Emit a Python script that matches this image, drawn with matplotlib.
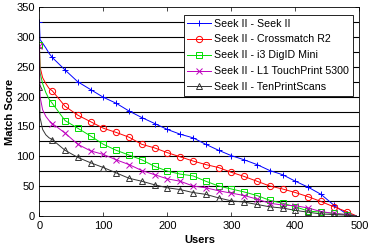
import matplotlib
matplotlib.use('Agg')

import matplotlib.pyplot as plt

plt.rcParams['font.family'] = ['Liberation Sans', 'DejaVu Sans']

# users axis, dense near zero where the curves drop fast
users = [0, 1, 5, 10, 15, 20, 40, 60, 80, 100, 120, 140, 160, 180, 200,
         220, 240, 260, 280, 300, 320, 340, 360, 380, 400, 420, 440, 460,
         480, 495]

seek_seek = [325, 296, 290, 282, 273, 266, 245, 225, 212, 199, 189, 176,
             165, 155, 145, 137, 131, 120, 110, 101, 94, 86, 76, 69, 58,
             48, 36, 18, 3, 0]
seek_cross = [287, 250, 232, 222, 214, 210, 184, 169, 158, 147, 140, 132,
              120, 114, 106, 99, 92, 86, 81, 73, 66, 58, 50, 45, 39, 32,
              24, 15, 7, 0]
seek_i3 = [287, 240, 222, 207, 196, 189, 160, 147, 134, 120, 110, 102, 94,
           83, 75, 70, 67, 58, 50, 45, 40, 34, 26, 21, 15, 8, 6, 4, 2, 0]
seek_l1 = [285, 200, 178, 167, 160, 155, 139, 120, 109, 103, 94, 86, 76,
           69, 62, 58, 50, 47, 42, 38, 34, 28, 21, 18, 17, 13, 7, 4, 2, 0]
seek_ten = [216, 165, 145, 136, 131, 128, 110, 98, 89, 81, 72, 63, 58, 52,
            47, 44, 39, 36, 30, 25, 23, 19, 15, 13, 9, 6, 3, 2, 1, 0]

labels = ['Seek II - Seek II', 'Seek II - Crossmatch R2',
          'Seek II - i3 DigID Mini', 'Seek II - L1 TouchPrint 5300',
          'Seek II - TenPrintScans']

fig = plt.figure(figsize=(3.72, 2.48), dpi=100)
ax = fig.add_axes([0.106, 0.130, 0.860, 0.840])

marks = [0] + list(range(5, 29))
styles = [('b', '+'), ('r', 'o'), ('#00dd00', 's'), ('m', 'x'), ('#333333', '^')]
series = [seek_seek, seek_cross, seek_i3, seek_l1, seek_ten]
for vals, (col, mk), lab in zip(series, styles, labels):
    ax.plot(users, vals, color=col, marker=mk, markevery=marks, lw=0.7,
            markersize=4.5, markerfacecolor='none', markeredgewidth=0.7,
            label=lab)

for y in range(25, 350, 25):
    ax.axhline(y, color='black', lw=0.8, zorder=0)

ax.set_xlim(0, 500)
ax.set_ylim(0, 350)
ax.set_xticks([0, 100, 200, 300, 400, 500])
ax.set_yticks([0, 50, 100, 150, 200, 250, 300, 350])
ax.tick_params(direction='in', top=True, right=True, labelsize=8,
               length=3, width=0.5)
for s in ax.spines.values():
    s.set_linewidth(0.6)
ax.set_xlabel('Users', fontsize=8, fontweight='bold', labelpad=3)
ax.set_ylabel('Match Score', fontsize=8, fontweight='bold', labelpad=1)

leg = ax.legend(loc='upper right', fontsize=7.7, fancybox=False,
                framealpha=1, edgecolor='black', handlelength=2.2,
                handletextpad=0.3, borderpad=0.35, labelspacing=0.55,
                bbox_to_anchor=(0.996, 0.99))
leg.get_frame().set_linewidth(0.6)

plt.savefig('out.png', dpi=100)
